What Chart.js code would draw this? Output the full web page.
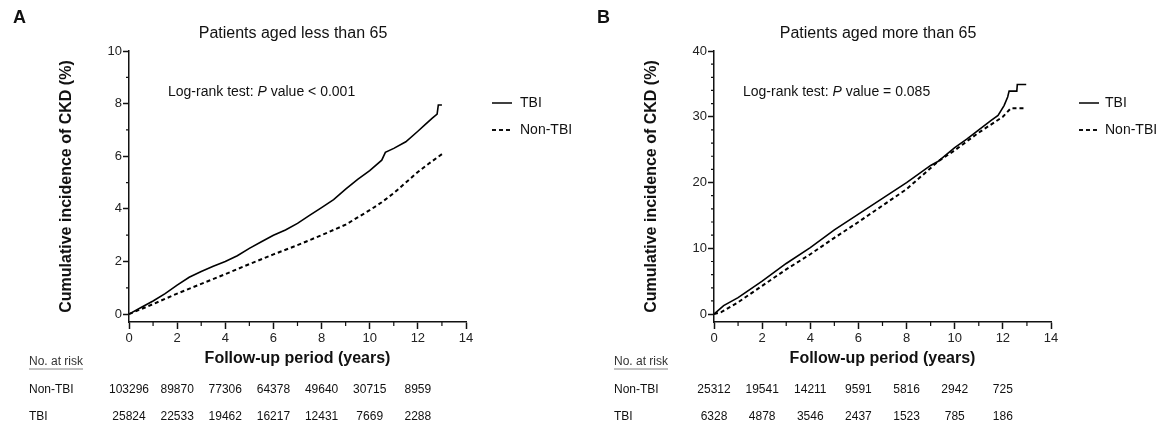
<!DOCTYPE html>
<html>
<head>
<meta charset="utf-8">
<script src="https://cdn.jsdelivr.net/npm/chart.js@4.4.1/dist/chart.umd.min.js"></script>
<style>
  body { margin: 0; background: #fff; }
  .painel { position: absolute; top: 0; }
  canvas { display: block; }
</style>
</head>
<body>
<div class="painel" style="left:0"><canvas id="graficoA" width="585" height="423"></canvas></div>
<div class="painel" style="left:585px"><canvas id="graficoB" width="584" height="423"></canvas></div>
<script>
// eixos
const xTicks = [0, 2, 4, 6, 8, 10, 12, 14];
const yTicksA = [0, 2, 4, 6, 8, 10];
const yTicksB = [0, 10, 20, 30, 40];
const riskYears = [0, 2, 4, 6, 8, 10, 12];

// Painel A - idade < 65
const anosA_tbi = [0, 0.5, 1, 1.5, 2, 2.5, 3, 3.5, 4, 4.5, 5, 5.5, 6, 6.5, 7, 7.5, 8, 8.5, 9, 9.5, 10, 10.5, 10.65, 11, 11.5, 12, 12.3, 12.6, 12.8, 12.85, 13];
const cumA_tbi = [0, 0.25, 0.5, 0.78, 1.1, 1.4, 1.62, 1.82, 2.0, 2.22, 2.5, 2.75, 3.0, 3.2, 3.45, 3.75, 4.05, 4.35, 4.75, 5.12, 5.45, 5.85, 6.15, 6.3, 6.55, 6.95, 7.2, 7.45, 7.6, 7.95, 7.95];
const anosA_non = [0, 1, 2, 3, 4, 5, 6, 7, 8, 9, 10, 10.5, 11, 11.5, 12, 12.5, 13];
const cumA_non = [0, 0.38, 0.78, 1.15, 1.52, 1.9, 2.27, 2.62, 3.0, 3.4, 3.95, 4.25, 4.6, 5.0, 5.4, 5.75, 6.08];
const riscoA_non = [103296, 89870, 77306, 64378, 49640, 30715, 8959];
const riscoA_tbi = [25824, 22533, 19462, 16217, 12431, 7669, 2288];

// Painel B - idade > 65
const anosB_tbi = [0, 0.4, 1, 2, 3, 4, 5, 6, 7, 8, 9, 9.3, 10, 10.5, 11, 11.5, 11.8, 12.05, 12.2, 12.26, 12.58, 12.6, 12.97];
const cumB_tbi = [0, 1.3, 2.5, 5.0, 7.7, 10.1, 12.8, 15.2, 17.6, 20.0, 22.6, 23.2, 25.3, 26.6, 28.0, 29.4, 30.2, 31.7, 33.0, 33.9, 33.9, 34.9, 34.9];
const anosB_non = [0, 0.3, 1, 2, 3, 4, 5, 6, 7, 8, 9, 9.3, 10, 11, 12, 12.33, 12.9];
const cumB_non = [0, 0.3, 1.8, 4.3, 6.8, 9.1, 11.6, 14.0, 16.5, 19.0, 22.2, 23.2, 24.9, 27.6, 30.0, 31.3, 31.3];
const riscoB_non = [25312, 19541, 14211, 9591, 5816, 2942, 725];
const riscoB_tbi = [6328, 4878, 3546, 2437, 1523, 785, 186];

const FONTE = '"Liberation Sans", Arial, sans-serif';
Chart.defaults.font.family = FONTE;
const COR = '#111';

function pontos(xs, ys) {
  return xs.map((x, i) => ({ x: x, y: ys[i] }));
}

// textos, legenda, ticks menores e tabela de risco
function extras(cfg) {
  return {
    id: 'extras',
    afterDraw(chart) {
      const { ctx, chartArea } = chart;
      const x = chart.scales.x;
      const y = chart.scales.y;
      ctx.save();
      ctx.fillStyle = COR;
      ctx.strokeStyle = COR;

      // ticks menores
      ctx.lineWidth = 1.2;
      ctx.beginPath();
      for (let v = 1; v < 14; v += 2) {
        const px = x.getPixelForValue(v);
        ctx.moveTo(px, chartArea.bottom);
        ctx.lineTo(px, chartArea.bottom + 4);
      }
      for (let v = cfg.yMinor; v < cfg.yTicks[cfg.yTicks.length - 1]; v += cfg.yMinor) {
        if (cfg.yTicks.includes(v)) continue;
        const py = y.getPixelForValue(v);
        ctx.moveTo(chartArea.left, py);
        ctx.lineTo(chartArea.left - 3, py);
      }
      ctx.stroke();

      ctx.textBaseline = 'middle';
      // letra do painel
      ctx.textAlign = 'left';
      ctx.font = 'bold 18px ' + FONTE;
      ctx.fillText(cfg.letra, cfg.letraX, 18);

      // titulo
      ctx.textAlign = 'center';
      ctx.font = '16px ' + FONTE;
      ctx.fillText(cfg.titulo, 293, 34);

      // log-rank com P em italico
      ctx.textAlign = 'left';
      let tx = cfg.logX;
      [['Log-rank test: ', ''], ['P', 'italic '], [cfg.pTexto, '']].forEach(([t, estilo]) => {
        ctx.font = estilo + '14px ' + FONTE;
        ctx.fillText(t, tx, 92);
        tx += ctx.measureText(t).width;
      });

      // legenda
      ctx.font = '14px ' + FONTE;
      chart.data.datasets.forEach((ds, i) => {
        const ly = 103 + i * 27;
        ctx.setLineDash(ds.borderDash || []);
        ctx.lineWidth = ds.borderWidth;
        ctx.beginPath();
        ctx.moveTo(cfg.legX, ly);
        ctx.lineTo(cfg.legX + 20, ly);
        ctx.stroke();
        ctx.setLineDash([]);
        ctx.fillText(ds.label, 520, ly);
      });

      // tabela "No. at risk"
      ctx.font = '12px ' + FONTE;
      ctx.fillStyle = '#333';
      ctx.fillText('No. at risk', 29, 362);
      const w = ctx.measureText('No. at risk').width;
      ctx.lineWidth = 0.8;
      ctx.strokeStyle = '#666';
      ctx.beginPath();
      ctx.moveTo(29, 369);
      ctx.lineTo(29 + w, 369);
      ctx.stroke();

      ctx.fillStyle = COR;
      [['Non-TBI', cfg.riscoNon, 390], ['TBI', cfg.riscoTbi, 417]].forEach(([nome, valores, ry]) => {
        ctx.textAlign = 'left';
        ctx.fillText(nome, 29, ry);
        ctx.textAlign = 'center';
        valores.forEach((n, k) => {
          ctx.fillText(String(n), x.getPixelForValue(riskYears[k]), ry);
        });
      });
      ctx.restore();
    }
  };
}

function criarPainel(id, cfg) {
  const ctx = document.getElementById(id).getContext('2d');
  return new Chart(ctx, {
    type: 'line',
    data: {
      datasets: [{
        label: 'TBI',
        data: pontos(cfg.tbiX, cfg.tbiY),
        borderColor: '#000',
        borderWidth: 1.6,
        pointRadius: 0,
        tension: 0
      }, {
        label: 'Non-TBI',
        data: pontos(cfg.nonX, cfg.nonY),
        borderColor: '#000',
        borderWidth: 2,
        borderDash: [4, 3],
        pointRadius: 0,
        tension: 0
      }]
    },
    options: {
      responsive: false,
      animation: false,
      events: [],
      layout: { padding: { top: 51, right: cfg.padDir, bottom: 0, left: 0 } },
      plugins: { legend: { display: false }, tooltip: { enabled: false } },
      scales: {
        x: {
          type: 'linear',
          min: 0,
          max: 14,
          afterFit: s => { s.height = 101; },
          afterBuildTicks: s => { s.ticks = xTicks.map(v => ({ value: v })); },
          grid: { drawOnChartArea: false, tickLength: 7, tickColor: COR, tickWidth: 1.5 },
          border: { color: COR, width: 1.5 },
          ticks: { color: '#222', font: { size: 13 }, padding: 2, maxRotation: 0, autoSkip: false },
          title: {
            display: true,
            text: 'Follow-up period (years)',
            color: COR,
            font: { size: 16, weight: 'bold' },
            padding: { top: 0, bottom: 55 }
          }
        },
        y: {
          min: cfg.yMin,
          max: cfg.yTicks[cfg.yTicks.length - 1],
          afterFit: s => { s.width = 129; },
          afterBuildTicks: s => { s.ticks = cfg.yTicks.map(v => ({ value: v })); },
          grid: { drawOnChartArea: false, tickLength: 6, tickColor: COR, tickWidth: 1.5 },
          border: { color: COR, width: 1.5 },
          ticks: { color: '#222', font: { size: 13 }, padding: 1 },
          title: {
            display: true,
            text: 'Cumulative incidence of CKD (%)',
            color: COR,
            font: { size: 16, weight: 'bold' },
            padding: { top: 57, bottom: 0 }
          }
        }
      }
    },
    plugins: [extras(cfg)]
  });
}

const chartA = criarPainel('graficoA', {
  tbiX: anosA_tbi, tbiY: cumA_tbi, nonX: anosA_non, nonY: cumA_non,
  riscoNon: riscoA_non, riscoTbi: riscoA_tbi,
  yTicks: yTicksA, yMin: -0.3, yMinor: 1,
  letra: 'A', letraX: 13,
  titulo: 'Patients aged less than 65',
  logX: 168, pTexto: ' value < 0.001',
  legX: 492, padDir: 119
});

const chartB = criarPainel('graficoB', {
  tbiX: anosB_tbi, tbiY: cumB_tbi, nonX: anosB_non, nonY: cumB_non,
  riscoNon: riscoB_non, riscoTbi: riscoB_tbi,
  yTicks: yTicksB, yMin: -1.2, yMinor: 2,
  letra: 'B', letraX: 12,
  titulo: 'Patients aged more than 65',
  logX: 158, pTexto: ' value = 0.085',
  legX: 494, padDir: 118
});
</script>
</body>
</html>
